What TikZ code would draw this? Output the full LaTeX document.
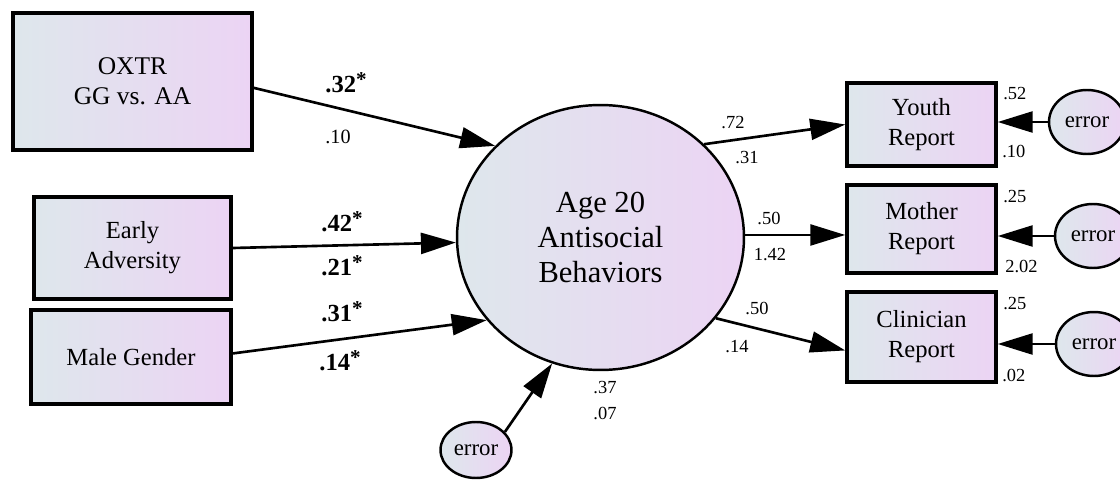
\documentclass[tikz,border=0pt]{standalone}
\usepackage{fontspec}
\setmainfont{Liberation Serif}
\usetikzlibrary{arrows.meta,shapes.geometric}

\definecolor{semgris}{RGB}{222,231,236}
\definecolor{semrosa}{RGB}{236,212,244}

\newcommand{\sigest}{\raisebox{0.55ex}{\fontsize{12}{12}\selectfont *}}

\tikzset{
  caja/.style={draw, line width=2pt, left color=semgris, right color=semrosa,
    inner sep=0pt, align=center, font=\fontsize{14}{17}\selectfont},
  latente/.style={ellipse, draw, line width=1.4pt, left color=semgris, right color=semrosa,
    inner sep=0pt, align=center, minimum width=5.74cm, minimum height=5.3cm,
    font=\fontsize{17.4}{20}\selectfont},
  errorov/.style={ellipse, draw, line width=1.4pt, left color=semgris, right color=semrosa,
    inner sep=0pt, font=\fontsize{13}{15}\selectfont},
  flecha/.style={line width=1.5pt, -{Triangle[length=0.7cm,width=0.42cm]}},
  coef/.style={inner sep=0pt, font=\fontsize{10.5}{12}\selectfont},
  coefsig/.style={inner sep=0pt, font=\bfseries\fontsize{14}{16}\selectfont},
}

\begin{document}
\begin{tikzpicture}[x=0.02cm, y=-0.02cm]
    \useasboundingbox (0,0) rectangle (1120,480);
    % Predictores
    \node[caja, minimum width=4.78cm, minimum height=2.74cm, font=\fontsize{14.5}{17}\selectfont] (oxtr) at (132.5,81.5) {OXTR\\GG vs. AA};
    \node[caja, minimum width=3.94cm, minimum height=2.04cm] (early) at (132.5,248) {Early\\Adversity};
    \node[caja, minimum width=4cm, minimum height=1.88cm] (male) at (131,357) {Male Gender};
    % Variable latente
    \node[latente] (age) at (600.5,237.5) {Age 20\\Antisocial\\Behaviors};
    \node[errorov, minimum width=1.42cm, minimum height=1.12cm] (eage) at (476,450) {error};
    % Indicadores
    \node[caja, minimum width=2.98cm, minimum height=1.66cm] (youth) at (921.5,124.5) {Youth\\Report};
    \node[caja, minimum width=2.98cm, minimum height=1.76cm] (mother) at (921.5,229) {Mother\\Report};
    \node[caja, minimum width=2.98cm, minimum height=1.8cm] (clin) at (921.5,337) {Clinician\\Report};
    \node[errorov, minimum width=1.52cm, minimum height=1.28cm] (eyouth) at (1087,122) {error};
    \node[errorov, minimum width=1.52cm, minimum height=1.28cm] (emother) at (1093,236) {error};
    \node[errorov, minimum width=1.52cm, minimum height=1.28cm] (eclin) at (1094,344) {error};
    % Flechas
    \draw[flecha] (oxtr.-3) -- (age.139);
    \draw[flecha] (early.east) -- (age.182);
    \draw[flecha] (male.2) -- (age.216);
    \draw[flecha] (eage.32) -- (age.249);
    \draw[flecha] (age.42) -- (youth.west);
    \draw[flecha] (age.1) -- (age.1 -| mother.west);
    \draw[flecha] (age.-35) -- (clin.190);
    \draw[flecha] (eyouth.west) -- (eyouth.west -| youth.east);
    \draw[flecha] (emother.west) -- (emother.west -| mother.east);
    \draw[flecha] (eclin.west) -- (eclin.west -| clin.east);
    % Coeficientes
    \node[coefsig] (sOxtr) at (346,83) {.32\sigest};
    \node[coef, font=\fontsize{11.5}{13}\selectfont] (vOxtr) at (338,137) {.10};
    \node[coefsig] (sEarly) at (342,222) {.42\sigest};
    \node[coefsig] (vEarly) at (342,266) {.21\sigest};
    \node[coefsig] (sMale) at (342,312) {.31\sigest};
    \node[coefsig] (vMale) at (340,361) {.14\sigest};
    \node[coef] (sYouth) at (733,123) {.72};
    \node[coef] (vYouth) at (747,158) {.31};
    \node[coef] (sMother) at (769,218) {.50};
    \node[coef] (vMother) at (770,255) {1.42};
    \node[coef] (sClin) at (757,308) {.50};
    \node[coef] (vClin) at (737,347) {.14};
    \node[coef] (rAge) at (605,388) {.37};
    \node[coef] (vAge) at (605,413) {.07};
    \node[coef, anchor=west] (rYouth) at (1003,94) {.52};
    \node[coef, anchor=west] (eYouthV) at (1002,151) {.10};
    \node[coef, anchor=west] (rMother) at (1003,197) {.25};
    \node[coef, anchor=west] (eMotherV) at (1005,266) {2.02};
    \node[coef, anchor=west] (rClin) at (1003,304) {.25};
    \node[coef, anchor=west] (eClinV) at (1002,375) {.02};
\end{tikzpicture}
\end{document}
